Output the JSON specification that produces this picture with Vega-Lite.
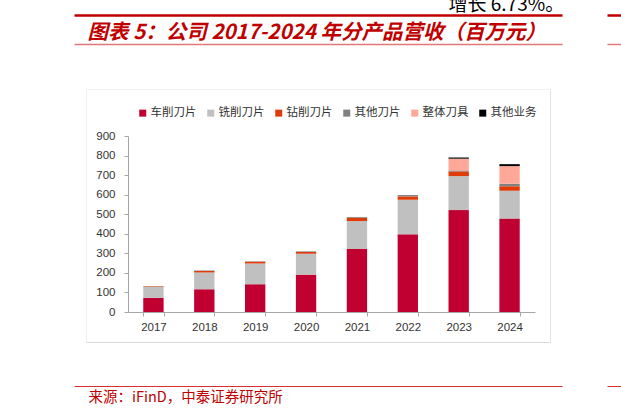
{
  "$schema": "https://vega.github.io/schema/vega-lite/v6.json",
  "description": "Stacked bars of revenue by product line, 2017-2024 (million yuan).",
  "width": 488,
  "height": 371,
  "autosize": {"type": "none"},
  "padding": {"left": 74, "top": 15, "right": 59, "bottom": 31},
  "background": "white",
  "config": {"view": {"stroke": null}},
  "data": {
    "values": [
      {"year": "2017", "product": "车削刀片", "value": 72},
      {"year": "2017", "product": "铣削刀片", "value": 56},
      {"year": "2017", "product": "钻削刀片", "value": 3},
      {"year": "2017", "product": "其他刀片", "value": 1},
      {"year": "2018", "product": "车削刀片", "value": 116},
      {"year": "2018", "product": "铣削刀片", "value": 86},
      {"year": "2018", "product": "钻削刀片", "value": 8},
      {"year": "2018", "product": "其他刀片", "value": 2},
      {"year": "2019", "product": "车削刀片", "value": 142},
      {"year": "2019", "product": "铣削刀片", "value": 106},
      {"year": "2019", "product": "钻削刀片", "value": 9},
      {"year": "2019", "product": "其他刀片", "value": 2},
      {"year": "2020", "product": "车削刀片", "value": 191},
      {"year": "2020", "product": "铣削刀片", "value": 107},
      {"year": "2020", "product": "钻削刀片", "value": 9},
      {"year": "2020", "product": "其他刀片", "value": 3},
      {"year": "2021", "product": "车削刀片", "value": 322},
      {"year": "2021", "product": "铣削刀片", "value": 143},
      {"year": "2021", "product": "钻削刀片", "value": 17},
      {"year": "2021", "product": "其他刀片", "value": 4},
      {"year": "2022", "product": "车削刀片", "value": 397},
      {"year": "2022", "product": "铣削刀片", "value": 177},
      {"year": "2022", "product": "钻削刀片", "value": 17},
      {"year": "2022", "product": "其他刀片", "value": 7},
      {"year": "2023", "product": "车削刀片", "value": 521},
      {"year": "2023", "product": "铣削刀片", "value": 174},
      {"year": "2023", "product": "钻削刀片", "value": 24},
      {"year": "2023", "product": "其他刀片", "value": 5},
      {"year": "2023", "product": "整体刀具", "value": 60},
      {"year": "2023", "product": "其他业务", "value": 6},
      {"year": "2024", "product": "车削刀片", "value": 478},
      {"year": "2024", "product": "铣削刀片", "value": 142},
      {"year": "2024", "product": "钻削刀片", "value": 23},
      {"year": "2024", "product": "其他刀片", "value": 13},
      {"year": "2024", "product": "整体刀具", "value": 90},
      {"year": "2024", "product": "其他业务", "value": 10}
    ]
  },
  "resolve": {
    "scale": {"x": "independent", "y": "independent"},
    "axis": {"x": "independent", "y": "independent"}
  },
  "layer": [
    {
      "transform": [
        {"calculate": "indexof(['车削刀片','铣削刀片','钻削刀片','其他刀片','整体刀具','其他业务'], datum.product)", "as": "rank"}
      ],
      "mark": {"type": "bar"},
      "encoding": {
        "x": {
          "field": "year",
          "type": "ordinal",
          "scale": {"range": [54, 461], "paddingInner": 0.6, "paddingOuter": 0.3},
          "axis": {
            "orient": "bottom",
            "offset": -74,
            "title": null,
            "labelAngle": 0,
            "labelFont": "Liberation Sans",
            "labelFontSize": 11.5,
            "labelColor": "#333333",
            "labelPadding": 5,
            "tickBand": "extent",
            "tickSize": 4,
            "tickColor": "#a6a6a6",
            "domainColor": "#a6a6a6",
            "grid": false
          }
        },
        "y": {
          "field": "value",
          "type": "quantitative",
          "aggregate": "sum",
          "stack": "zero",
          "scale": {"domain": [0, 900], "range": [297, 121], "nice": false},
          "axis": {
            "orient": "left",
            "offset": -54,
            "title": null,
            "values": [0, 100, 200, 300, 400, 500, 600, 700, 800, 900],
            "labelFont": "Liberation Sans",
            "labelFontSize": 11.5,
            "labelColor": "#333333",
            "labelPadding": 9,
            "tickSize": 4,
            "tickColor": "#a6a6a6",
            "domainColor": "#a6a6a6",
            "grid": false
          }
        },
        "color": {
          "field": "product",
          "type": "nominal",
          "scale": {
            "domain": ["车削刀片", "铣削刀片", "钻削刀片", "其他刀片", "整体刀具", "其他业务"],
            "range": ["#C00030", "#C0C0C0", "#E03C0A", "#808080", "#FFA898", "#000000"]
          },
          "legend": {
            "title": null,
            "orient": "none",
            "direction": "horizontal",
            "legendX": 63,
            "legendY": 92,
            "padding": 0,
            "symbolType": "square",
            "symbolSize": 49,
            "symbolStrokeWidth": 0,
            "labelFont": "Noto Sans CJK SC",
            "labelFontSize": 11.5,
            "labelColor": "#333333",
            "labelOffset": 2,
            "columnPadding": 8
          }
        },
        "order": {"field": "rank", "type": "quantitative", "sort": "ascending"}
      }
    },
    {
      "mark": {"type": "point", "opacity": 0},
      "encoding": {
        "x": {
          "field": "year",
          "type": "nominal",
          "scale": {"range": [0, 488]},
          "axis": {
            "orient": "top",
            "offset": 0,
            "labels": false,
            "ticks": false,
            "grid": false,
            "domainColor": "#C00000",
            "domainWidth": 2.5,
            "title": "增长 6.73%。",
            "titleX": 374,
            "titleY": -5,
            "titleAlign": "left",
            "titleBaseline": "alphabetic",
            "titleFont": "Noto Sans CJK SC",
            "titleFontWeight": "normal",
            "titleFontSize": 19,
            "titleColor": "#000000"
          }
        }
      }
    },
    {
      "mark": {"type": "point", "opacity": 0},
      "encoding": {
        "x": {
          "field": "year",
          "type": "nominal",
          "scale": {"range": [0, 488]},
          "axis": {
            "orient": "top",
            "offset": -29,
            "labels": false,
            "ticks": false,
            "grid": false,
            "domainColor": "#E07878",
            "domainWidth": 1.5,
            "title": "图表 5：公司 2017-2024 年分产品营收（百万元）",
            "titleX": 13,
            "titleY": -12,
            "titleAlign": "left",
            "titleBaseline": "middle",
            "titleFont": "Noto Sans CJK SC",
            "titleFontWeight": "bold",
            "titleFontStyle": "italic",
            "titleFontSize": 20.5,
            "titleColor": "#C00000"
          }
        }
      }
    },
    {
      "mark": {"type": "point", "opacity": 0},
      "encoding": {
        "x": {
          "field": "year",
          "type": "nominal",
          "scale": {"range": [0, 488]},
          "axis": {
            "orient": "bottom",
            "offset": 0,
            "labels": false,
            "ticks": false,
            "grid": false,
            "domainColor": "#D83030",
            "domainWidth": 1,
            "title": "来源：iFinD，中泰证券研究所",
            "titleX": 14,
            "titleY": 11,
            "titleAlign": "left",
            "titleBaseline": "middle",
            "titleFont": "Noto Sans CJK SC",
            "titleFontWeight": "normal",
            "titleFontSize": 14.5,
            "titleColor": "#C00000"
          }
        }
      }
    },
    {
      "mark": {"type": "point", "opacity": 0},
      "encoding": {
        "x": {
          "field": "year",
          "type": "nominal",
          "scale": {"range": [12, 476]},
          "axis": {"orient": "bottom", "offset": -44, "labels": false, "ticks": false, "grid": false, "title": null, "domainColor": "#d9d9d9", "domainWidth": 1}
        },
        "y": {
          "field": "year",
          "type": "nominal",
          "scale": {"range": [74, 327]},
          "axis": {"orient": "left", "offset": -12, "labels": false, "ticks": false, "grid": false, "title": null, "domainColor": "#efefef", "domainWidth": 1}
        }
      }
    },
    {
      "mark": {"type": "point", "opacity": 0},
      "encoding": {
        "x": {
          "field": "year",
          "type": "nominal",
          "scale": {"range": [12, 476]},
          "axis": {"orient": "top", "offset": -74, "labels": false, "ticks": false, "grid": false, "title": null, "domainColor": "#f2f2f2", "domainWidth": 1}
        },
        "y": {
          "field": "year",
          "type": "nominal",
          "scale": {"range": [74, 327]},
          "axis": {"orient": "right", "offset": -12, "labels": false, "ticks": false, "grid": false, "title": null, "domainColor": "#e3e3e3", "domainWidth": 1}
        }
      }
    },
    {
      "mark": {"type": "point", "opacity": 0},
      "encoding": {
        "x": {
          "field": "year",
          "type": "nominal",
          "scale": {"range": [533, 547]},
          "axis": {"orient": "top", "offset": 0, "labels": false, "ticks": false, "grid": false, "title": null, "domainColor": "#C00000", "domainWidth": 2.5}
        }
      }
    },
    {
      "mark": {"type": "point", "opacity": 0},
      "encoding": {
        "x": {
          "field": "year",
          "type": "nominal",
          "scale": {"range": [533, 547]},
          "axis": {"orient": "top", "offset": -29, "labels": false, "ticks": false, "grid": false, "title": null, "domainColor": "#E07878", "domainWidth": 1.5}
        }
      }
    },
    {
      "mark": {"type": "point", "opacity": 0},
      "encoding": {
        "x": {
          "field": "year",
          "type": "nominal",
          "scale": {"range": [533, 547]},
          "axis": {"orient": "bottom", "offset": 0, "labels": false, "ticks": false, "grid": false, "title": null, "domainColor": "#D83030", "domainWidth": 1}
        }
      }
    }
  ]
}
